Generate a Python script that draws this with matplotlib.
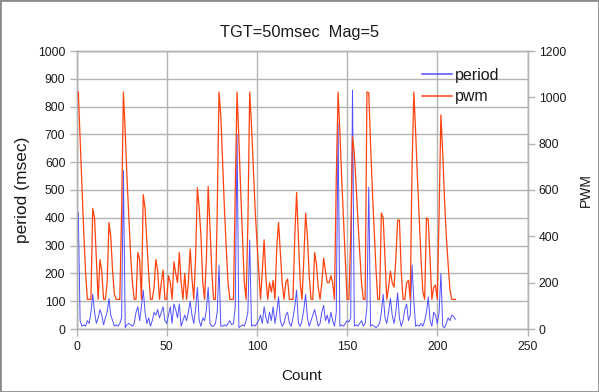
import matplotlib
matplotlib.use("Agg")
import matplotlib.pyplot as plt
from matplotlib.patches import Rectangle

plt.rcParams['font.family'] = ['Liberation Sans', 'DejaVu Sans']

count = list(range(1, 211))

period = [
    420, 30, 10, 15, 10, 30, 20, 60, 125, 60,
    20, 40, 70, 50, 15, 40, 60, 110, 50, 30,
    10, 15, 10, 20, 40, 570, 5, 15, 20, 15,
    10, 20, 60, 80, 30, 80, 140, 60, 20, 40,
    10, 30, 60, 50, 70, 40, 60, 80, 30, 20,
    50, 80, 20, 90, 70, 40, 90, 10, 30, 50,
    30, 60, 100, 50, 20, 70, 150, 30, 10, 40,
    30, 70, 150, 20, 10, 10, 20, 60, 230, 10,
    10, 15, 10, 20, 30, 15, 20, 80, 700, 5,
    10, 15, 10, 30, 60, 320, 10, 15, 10, 20,
    30, 50, 20, 80, 40, 20, 60, 30, 80, 20,
    60, 115, 30, 10, 20, 50, 60, 20, 10, 40,
    80, 140, 20, 10, 30, 70, 125, 40, 10, 30,
    50, 70, 40, 10, 20, 60, 85, 30, 50, 20,
    60, 30, 10, 60, 740, 10, 15, 10, 20, 30,
    25, 40, 860, 10, 15, 10, 20, 30, 10, 20,
    80, 510, 10, 15, 10, 5, 10, 20, 60, 125,
    40, 20, 60, 110, 50, 20, 60, 130, 40, 10,
    30, 70, 90, 30, 50, 230, 100, 10, 15, 10,
    20, 10, 30, 60, 115, 30, 10, 60, 50, 20,
    60, 200, 10, 5, 20, 40, 30, 50, 45, 35,
]

pwm = [
    1023, 820, 620, 420, 250, 128, 128, 128, 520, 480,
    300, 128, 300, 250, 128, 128, 200, 460, 400, 250,
    150, 128, 128, 128, 500, 1023, 850, 650, 480, 320,
    200, 128, 128, 330, 300, 128, 580, 520, 380, 240,
    128, 128, 180, 300, 250, 128, 200, 255, 128, 128,
    230, 200, 128, 290, 240, 200, 330, 200, 128, 240,
    128, 200, 345, 220, 128, 300, 610, 520, 400, 200,
    128, 300, 615, 440, 250, 128, 128, 500, 1023, 920,
    720, 520, 350, 200, 128, 128, 128, 600, 1023, 820,
    600, 400, 200, 128, 450, 1023, 880, 700, 520, 380,
    250, 128, 250, 385, 220, 128, 200, 160, 210, 128,
    350, 460, 330, 200, 128, 200, 216, 128, 128, 128,
    400, 590, 400, 200, 128, 300, 500, 400, 230, 128,
    128, 330, 280, 180, 128, 200, 306, 250, 200, 200,
    230, 200, 128, 650, 1023, 850, 650, 480, 300, 128,
    128, 400, 830, 760, 620, 470, 330, 200, 128, 128,
    1023, 1020, 800, 600, 430, 260, 128, 128, 500, 480,
    300, 128, 180, 250, 200, 180, 300, 470, 470, 250,
    128, 128, 200, 210, 128, 700, 1023, 850, 650, 480,
    300, 160, 128, 480, 470, 300, 128, 180, 190, 128,
    500, 924, 760, 560, 400, 280, 170, 128, 128, 128,
]

xticks = [0, 50, 100, 150, 200, 250]
yticks_left = [0, 100, 200, 300, 400, 500, 600, 700, 800, 900, 1000]
yticks_right = [0, 200, 400, 600, 800, 1000, 1200]

W, H = 599, 392
fig = plt.figure(figsize=(W / 100, H / 100), dpi=100)
fig.patch.set_facecolor('white')

left, right, top, bottom = 76.5, 527.5, 51, 329
ax = fig.add_axes([left / W, 1 - bottom / H, (right - left) / W, (bottom - top) / H])
ax2 = ax.twinx()

grid_c = '#b3b3b3'
txt_c = '#1a1a1a'

ax.plot(count, period, color='#5050ff', lw=0.7, label='period', zorder=3)
ax2.plot(count, pwm, color='#ff420e', lw=0.9, label='pwm', zorder=3)

ax.set_xlim(0, 250)
ax.set_ylim(0, 1000)
ax2.set_ylim(0, 1200)
ax.set_xticks(xticks)
ax.set_yticks(yticks_left)
ax2.set_yticks(yticks_right)

ax.grid(True, color=grid_c, lw=1)
ax.set_axisbelow(True)
for a in (ax, ax2):
    for s in a.spines.values():
        s.set_color(grid_c)
        s.set_linewidth(1)
    a.tick_params(colors=grid_c, labelcolor=txt_c, labelsize=8.7, length=5, width=1)
ax.tick_params(axis='x', pad=4)
ax.tick_params(axis='y', pad=3)
ax2.tick_params(axis='y', pad=3)

ax.set_xlabel('Count', fontsize=11, color=txt_c, labelpad=11)
ax.set_ylabel('period (msec)', fontsize=12.5, color=txt_c, labelpad=6)
ax2.set_ylabel('PWM', fontsize=10, color=txt_c, labelpad=9)

fig.text(299.5 / W, 1 - 33 / H, 'TGT=50msec  Mag=5', fontsize=11.8, color=txt_c,
         ha='center', va='center')

h1, l1 = ax.get_legend_handles_labels()
h2, l2 = ax2.get_legend_handles_labels()
leg = ax2.legend(h1 + h2, l1 + l2, loc='upper left',
                 bbox_to_anchor=(414 / W, 1 - 60 / H), bbox_transform=fig.transFigure,
                 frameon=False, fontsize=11.5, handlelength=1.85, handletextpad=0.2,
                 borderpad=0, labelspacing=0.4)
for t in leg.get_texts():
    t.set_color(txt_c)
for ln in leg.get_lines():
    ln.set_linewidth(1.1)

fig.patches.append(Rectangle((0, 0), 1, 1, transform=fig.transFigure, fill=False,
                             edgecolor='#8c8c8c', lw=2, zorder=10))

fig.savefig('out.png', dpi=100)
